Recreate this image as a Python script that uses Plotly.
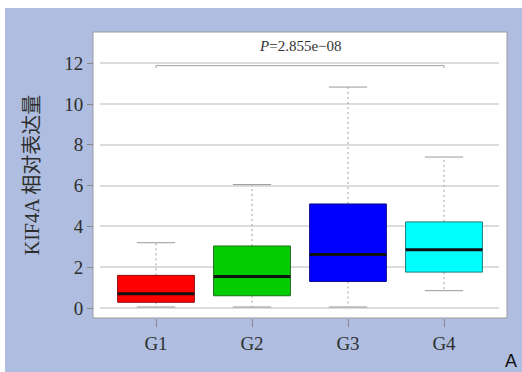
import plotly.graph_objects as go

# Expression summary per group (box statistics)
groups = ["G1", "G2", "G3", "G4"]
q1 = [0.28, 0.60, 1.30, 1.76]
median = [0.70, 1.55, 2.62, 2.86]
q3 = [1.60, 3.04, 5.10, 4.22]
lower_whisker = [0.05, 0.05, 0.05, 0.85]
upper_whisker = [3.20, 6.05, 10.83, 7.40]
fill_colors = ["#ff0000", "#00cc00", "#0000ff", "#00ffff"]
edge_colors = ["#8b1010", "#1c6e1c", "#10108b", "#1e7a7a"]
y_ticks = [0, 2, 4, 6, 8, 10, 12]
p_label = "<i>P</i>=2.855e\u221208"
bracket_y = 11.88

xs = list(range(1, len(groups) + 1))
half_box = 0.40
half_cap = 0.20

fig = go.Figure()

for i, g in enumerate(groups):
    x = xs[i]
    # whiskers (dashed)
    fig.add_trace(go.Scatter(
        x=[x, x, None, x, x],
        y=[q3[i], upper_whisker[i], None, q1[i], lower_whisker[i]],
        mode="lines", line=dict(color="#a0a0a0", width=1, dash="2px,3px"),
        hoverinfo="skip", showlegend=False))
    # whisker caps
    fig.add_trace(go.Scatter(
        x=[x - half_cap, x + half_cap, None, x - half_cap, x + half_cap],
        y=[upper_whisker[i], upper_whisker[i], None, lower_whisker[i], lower_whisker[i]],
        mode="lines", line=dict(color="#9a9a9a", width=1),
        hoverinfo="skip", showlegend=False))
    # box body
    fig.add_trace(go.Scatter(
        x=[x - half_box, x + half_box, x + half_box, x - half_box, x - half_box],
        y=[q1[i], q1[i], q3[i], q3[i], q1[i]],
        mode="lines", fill="toself", fillcolor=fill_colors[i],
        line=dict(color=edge_colors[i], width=1),
        name=g, showlegend=False))
    # median
    fig.add_trace(go.Scatter(
        x=[x - half_box, x + half_box], y=[median[i], median[i]],
        mode="lines", line=dict(color="#111111", width=3),
        hoverinfo="skip", showlegend=False))

# significance bracket
fig.add_trace(go.Scatter(
    x=[xs[0], xs[0], xs[-1], xs[-1]],
    y=[bracket_y - 0.12, bracket_y, bracket_y, bracket_y - 0.12],
    mode="lines", line=dict(color="#a0a0a0", width=1),
    hoverinfo="skip", showlegend=False))

# panel geometry in pixels
W, H = 522, 372
pl, pr, pt, pb = 93, 507, 32, 318
pw, ph = pr - pl, pb - pt

def px_x(v):
    return (v - pl) / pw

def px_y(v):
    return (pb - v) / ph

shapes = [
    # outer white frame strips
    dict(type="rect", xref="paper", yref="paper", x0=px_x(0), x1=px_x(W), y0=px_y(0), y1=px_y(8),
         fillcolor="white", line=dict(width=0), layer="below"),
    dict(type="rect", xref="paper", yref="paper", x0=px_x(0), x1=px_x(5), y0=px_y(0), y1=px_y(H),
         fillcolor="white", line=dict(width=0), layer="below"),
    # white plotting panel
    dict(type="rect", xref="paper", yref="paper", x0=0, x1=1, y0=0, y1=1,
         fillcolor="white", line=dict(color="#9a9a9a", width=1), layer="below"),
]

fig.update_layout(
    width=W, height=H,
    margin=dict(l=pl, r=W - pr, t=pt, b=H - pb),
    paper_bgcolor="#afbee0",
    plot_bgcolor="rgba(0,0,0,0)",
    font=dict(family="Liberation Serif, Noto Sans CJK SC", color="#333333", size=18),
    shapes=shapes,
    xaxis=dict(
        domain=[7 / pw, (499 - pl) / pw],
        range=[1 - 56 / 96, 4 + 55 / 96],
        tickvals=xs, ticktext=groups,
        ticks="outside", ticklen=8, tickcolor="#888888",
        showgrid=False, zeroline=False, showline=False,
        tickfont=dict(size=19, color="#2e2e2e"),
    ),
    yaxis=dict(
        anchor="free", position=0,
        range=[-10 / 20.4, 276 / 20.4],
        tickvals=y_ticks,
        ticks="outside", ticklen=6, tickcolor="#888888",
        showgrid=True, gridcolor="#dcdcdc", gridwidth=1.5,
        zeroline=False, showline=False,
        tickfont=dict(size=19, color="#2e2e2e"),
        title=dict(text="KIF4A 相对表达量", standoff=18,
                   font=dict(size=20, color="#2e2e2e",
                             family="Liberation Serif, Noto Sans CJK SC")),
    ),
    annotations=[
        dict(text=p_label, x=2.5, y=12.85, xref="x", yref="y", showarrow=False,
             font=dict(size=15, color="#333333", family="Liberation Serif")),
        dict(text="A", x=px_x(511), y=px_y(361), xref="paper", yref="paper", showarrow=False,
             xanchor="center", yanchor="middle",
             font=dict(size=18, color="#111111", family="Liberation Sans")),
    ],
)

fig.write_html("out.html")
